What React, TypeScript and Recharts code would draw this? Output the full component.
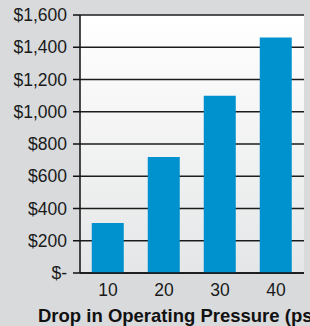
import { BarChart, Bar, XAxis, YAxis, CartesianGrid } from "recharts";

const pressureDrops = ["10", "20", "30", "40"];
const costs = [310, 720, 1100, 1460];
const yTicks = [0, 200, 400, 600, 800, 1000, 1200, 1400, 1600];

const data = pressureDrops.map((drop, i) => ({ drop, cost: costs[i] }));

const money = (v: number) => (v === 0 ? "$-" : "$" + v.toLocaleString("en-US"));

const font = "'Liberation Sans', Arial, Helvetica, sans-serif";

export default function App() {
  return (
    <div
      style={{
        position: "fixed",
        top: 0,
        left: 0,
        width: 310,
        height: 326,
        background: "#d9dadc",
        overflow: "hidden",
        fontFamily: font,
      }}
    >
      {/* gradient lives in its own svg so the chart can reference it */}
      <svg width={0} height={0} style={{ position: "absolute" }}>
        <defs>
          <linearGradient id="plotBg" x1="0" y1="0" x2="0" y2="1">
            <stop offset="0%" stopColor="#ffffff" />
            <stop offset="100%" stopColor="#e5e6e7" />
          </linearGradient>
        </defs>
      </svg>

      <BarChart
        width={310}
        height={326}
        data={data}
        margin={{ top: 15, right: 6, bottom: 0, left: 0 }}
        barCategoryGap="21%"
      >
        <CartesianGrid
          vertical={false}
          stroke="#1c1c1c"
          strokeWidth={1.5}
          fill="url(#plotBg)"
          fillOpacity={1}
        />

        <XAxis
          dataKey="drop"
          height={53}
          tickLine={false}
          axisLine={{ stroke: "#111", strokeWidth: 1.5 }}
          tick={{ fill: "#1a1a1a", fontSize: 17.5, fontFamily: font }}
          tickMargin={5}
          label={{
            content: () => (
              <text
                x={38}
                y={322}
                fill="#111"
                fontSize={18.5}
                fontWeight="bold"
                fontFamily={font}
              >
                Drop in Operating Pressure (psi)
              </text>
            ),
          }}
        />

        <YAxis
          width={80}
          domain={[0, 1600]}
          ticks={yTicks}
          interval={0}
          tickFormatter={money}
          tickSize={7}
          tickMargin={6}
          tickLine={{ stroke: "#111", strokeWidth: 1.5 }}
          axisLine={{ stroke: "#111", strokeWidth: 1.5 }}
          tick={{ fill: "#1a1a1a", fontSize: 17.5, fontFamily: font }}
        />

        <YAxis
          yAxisId="frame"
          orientation="right"
          width={0}
          domain={[0, 1600]}
          tick={false}
          tickLine={false}
          axisLine={{ stroke: "#444", strokeWidth: 2 }}
        />

        <Bar dataKey="cost" fill="#0091cf" isAnimationActive={false} />
      </BarChart>
    </div>
  );
}
